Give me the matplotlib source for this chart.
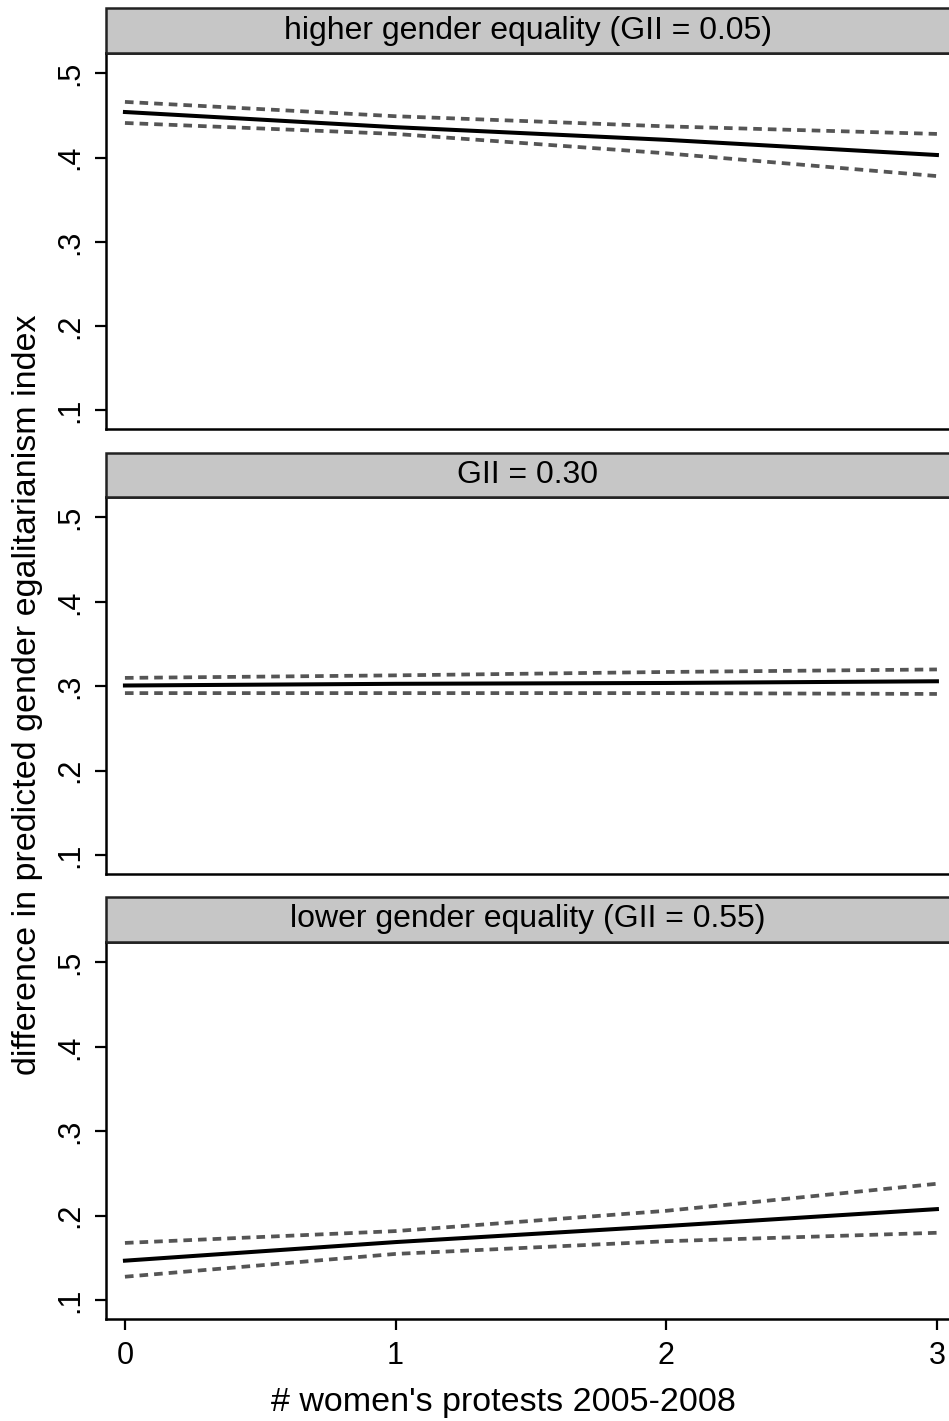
import matplotlib
matplotlib.use('Agg')
import matplotlib.pyplot as plt
from matplotlib.patches import Rectangle

plt.rcParams['font.family'] = ['Liberation Sans', 'DejaVu Sans']

protests = [0, 1, 2, 3]
titles = ['higher gender equality (GII = 0.05)', 'GII = 0.30', 'lower gender equality (GII = 0.55)']

# point estimate and 95% bounds for each panel
est_high = [0.454, 0.436, 0.421, 0.403]
upper_high = [0.466, 0.449, 0.437, 0.428]
lower_high = [0.441, 0.428, 0.405, 0.378]

est_mid = [0.301, 0.303, 0.304, 0.306]
upper_mid = [0.310, 0.313, 0.317, 0.320]
lower_mid = [0.292, 0.292, 0.292, 0.291]

est_low = [0.147, 0.169, 0.188, 0.208]
upper_low = [0.168, 0.182, 0.206, 0.238]
lower_low = [0.128, 0.155, 0.170, 0.180]

panels = [(est_high, upper_high, lower_high),
          (est_mid, upper_mid, lower_mid),
          (est_low, upper_low, lower_low)]

W, H = 949, 1421
fig = plt.figure(figsize=(W / 100, H / 100), dpi=100)

left = 106
# (header top, plot top, plot bottom) in pixels
boxes = [(8, 53, 429), (453, 497, 874), (897, 942, 1319)]

for i, ((est, up, lo), (ht, pt, pb)) in enumerate(zip(panels, boxes)):
    ax = fig.add_axes([left / W, 1 - pb / H, (W - left + 2) / W, (pb - pt) / H])
    ax.plot(protests, up, color='#555555', lw=2.7, dashes=(2.3, 1.6))
    ax.plot(protests, lo, color='#555555', lw=2.7, dashes=(2.3, 1.6))
    ax.plot(protests, est, color='black', lw=2.9)
    ax.set_xlim(-0.07, 3.052)
    ax.set_ylim(0.078, 0.524)
    ax.set_yticks([0.1, 0.2, 0.3, 0.4, 0.5])
    ax.set_yticklabels(['.1', '.2', '.3', '.4', '.5'], rotation=90, va='center')
    ax.spines['right'].set_visible(False)
    for s in ['left', 'bottom', 'top']:
        ax.spines[s].set_linewidth(1.8)
    ax.tick_params(axis='y', length=8, width=1.6, labelsize=22, pad=7)
    if i < 2:
        ax.set_xticks([])
    else:
        ax.set_xticks(protests)
        ax.tick_params(axis='x', length=8, width=1.6, labelsize=22, pad=8)
    # strip header
    rect = Rectangle((left / W, 1 - pt / H), (W - left + 2) / W, (pt - ht) / H,
                     transform=fig.transFigure, facecolor='#c6c6c6',
                     edgecolor='#222222', lw=1.8, clip_on=False)
    fig.add_artist(rect)
    fig.text((left + 949) / 2 / W, 1 - (ht + pt) / 2 / H, titles[i],
             ha='center', va='center', fontsize=23)

fig.text(28 / W, 1 - 695 / H, 'difference in predicted gender egalitarianism index',
         rotation=90, ha='center', va='center', fontsize=24.5)
fig.text(503 / W, 1 - 1402 / H, "# women's protests 2005-2008",
         ha='center', va='center', fontsize=24.5)

fig.savefig('out.png', dpi=100)
